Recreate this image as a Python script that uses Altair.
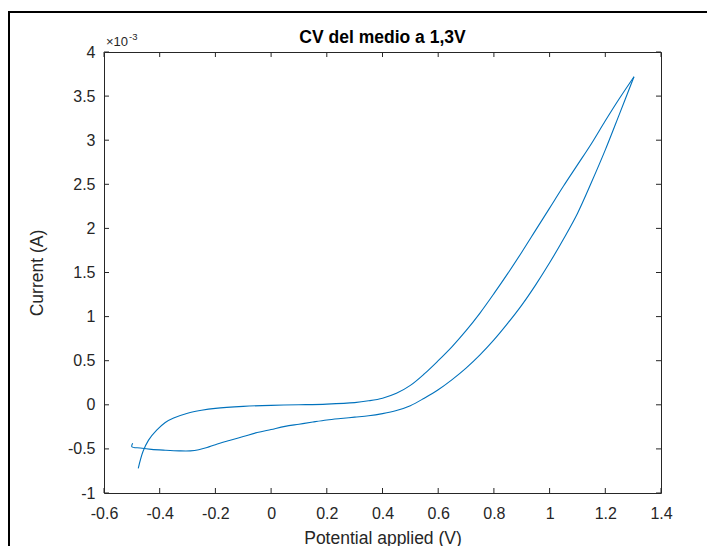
import altair as alt
import pandas as pd

# ---- data (current in units of 1e-3 A) ----
# forward scan (lower branch), -0.5 V -> 1.3 V
fwd_x = [-0.497, -0.500, -0.470, -0.430, -0.380, -0.330, -0.290, -0.260, -0.230, -0.200,
         -0.150, -0.100, -0.050, 0.000, 0.050, 0.100, 0.150, 0.200, 0.250, 0.300,
         0.350, 0.400, 0.450, 0.500, 0.550, 0.600, 0.650, 0.700, 0.750, 0.800,
         0.850, 0.900, 0.950, 1.000, 1.050, 1.100, 1.150, 1.200, 1.250, 1.303]
fwd_y = [-0.435, -0.475, -0.490, -0.505, -0.515, -0.522, -0.522, -0.510, -0.485, -0.452,
         -0.405, -0.360, -0.315, -0.280, -0.245, -0.220, -0.195, -0.172, -0.155, -0.140,
         -0.125, -0.100, -0.065, -0.010, 0.075, 0.170, 0.285, 0.415, 0.565, 0.735,
         0.925, 1.130, 1.360, 1.610, 1.880, 2.170, 2.520, 2.890, 3.290, 3.720]
# reverse scan (upper branch), 1.3 V -> -0.48 V
rev_x = [1.303, 1.250, 1.200, 1.150, 1.100, 1.050, 1.000, 0.950, 0.900, 0.850,
         0.800, 0.750, 0.700, 0.650, 0.600, 0.550, 0.500, 0.450, 0.400, 0.350,
         0.300, 0.200, 0.100, 0.000, -0.100, -0.200, -0.250, -0.300, -0.350, -0.380,
         -0.410, -0.440, -0.460, -0.477]
rev_y = [3.720, 3.470, 3.220, 2.960, 2.720, 2.480, 2.230, 1.980, 1.730, 1.490,
         1.260, 1.040, 0.840, 0.660, 0.500, 0.350, 0.220, 0.130, 0.075, 0.045,
         0.025, 0.008, 0.000, -0.006, -0.018, -0.040, -0.062, -0.095, -0.150, -0.200,
         -0.285, -0.400, -0.530, -0.720]

x_ticks = [-0.6, -0.4, -0.2, 0, 0.2, 0.4, 0.6, 0.8, 1, 1.2, 1.4]
y_ticks = [-1, -0.5, 0, 0.5, 1, 1.5, 2, 2.5, 3, 3.5, 4]

title_text = "CV del medio a 1,3V"
x_title = "Potential applied (V)"
y_title = "Current (A)"

W, H = 557, 441
FONT = "Liberation Sans, Arial, Helvetica, sans-serif"
AX = "#262626"

cv = pd.DataFrame({
    "E": fwd_x + rev_x,
    "I": fwd_y + rev_y,
    "i": list(range(len(fwd_x))) + list(range(len(rev_x))),
    "branch": ["fwd"] * len(fwd_x) + ["rev"] * len(rev_x),
})
xt = pd.DataFrame({"E": x_ticks})
yt = pd.DataFrame({"I": y_ticks})

xscale = alt.Scale(domain=[x_ticks[0], x_ticks[-1]], nice=False, zero=False)
yscale = alt.Scale(domain=[y_ticks[0], y_ticks[-1]], nice=False, zero=False)

lab = "'' + datum.value"

line = alt.Chart(cv).mark_line(color="#0072BD", strokeWidth=1.1,
                               interpolate="catmull-rom").encode(
    x=alt.X("E:Q", scale=xscale,
            axis=alt.Axis(values=x_ticks, labelExpr=lab, grid=False, domain=False,
                          ticks=False, tickSize=0, labelPadding=20, labelBaseline="middle",
                          labelFont=FONT, labelFontSize=16, labelColor=AX,
                          title=x_title, titleFont=FONT, titleFontSize=17.5,
                          titleFontWeight="normal", titleColor=AX,
                          titleX=W / 2, titleY=45, titleBaseline="middle",
                          titleAlign="center", labelFlush=False)),
    y=alt.Y("I:Q", scale=yscale,
            axis=alt.Axis(values=y_ticks, labelExpr=lab, grid=False, domain=False,
                          ticks=False, tickSize=0, labelPadding=9, labelBaseline="middle",
                          labelFont=FONT, labelFontSize=16, labelColor=AX,
                          title=y_title, titleFont=FONT, titleFontSize=17.5,
                          titleFontWeight="normal", titleColor=AX,
                          titleX=-67, titleY=H / 2, titleAngle=270,
                          titleBaseline="middle", titleAlign="center", labelFlush=False)),
    order="i:Q",
    detail="branch:N",
)

tick_len = 5
top_t = alt.Chart(xt).mark_rule(color=AX, strokeWidth=1).encode(
    x=alt.X("E:Q", scale=xscale), y=alt.value(0), y2=alt.value(tick_len))
bot_t = alt.Chart(xt).mark_rule(color=AX, strokeWidth=1).encode(
    x=alt.X("E:Q", scale=xscale), y=alt.value(H - tick_len), y2=alt.value(H))
left_t = alt.Chart(yt).mark_rule(color=AX, strokeWidth=1).encode(
    y=alt.Y("I:Q", scale=yscale), x=alt.value(0), x2=alt.value(tick_len))
right_t = alt.Chart(yt).mark_rule(color=AX, strokeWidth=1).encode(
    y=alt.Y("I:Q", scale=yscale), x=alt.value(W - tick_len), x2=alt.value(W))

frame = alt.Chart(xt).mark_rect(filled=False, stroke="black", strokeWidth=2).encode(
    x=alt.value(-95), x2=alt.value(605), y=alt.value(-40), y2=alt.value(540))

title = alt.Chart(pd.DataFrame({"t": [title_text]})).mark_text(
    font=FONT, fontSize=17.5, fontWeight="bold", color="black",
    align="center", baseline="middle").encode(
    text="t:N", x=alt.value(W / 2), y=alt.value(-14))

exp_base = alt.Chart(pd.DataFrame({"t": ["\u00d710"]})).mark_text(
    font=FONT, fontSize=13, color=AX, align="left", baseline="alphabetic").encode(
    text="t:N", x=alt.value(2), y=alt.value(-6))
exp_sup = alt.Chart(pd.DataFrame({"t": ["-3"]})).mark_text(
    font=FONT, fontSize=9.5, color=AX, align="left", baseline="alphabetic").encode(
    text="t:N", x=alt.value(25), y=alt.value(-12))

chart = alt.layer(frame, line, top_t, bot_t, left_t, right_t, title, exp_base, exp_sup).properties(
    width=W, height=H,
    padding={"left": 96, "top": 44, "right": 46, "bottom": 60},
    autosize=alt.AutoSizeParams(type="none"),
).configure_view(stroke=AX, strokeWidth=1)

chart.save("out.html", embed_options={"renderer": "svg", "actions": False})
